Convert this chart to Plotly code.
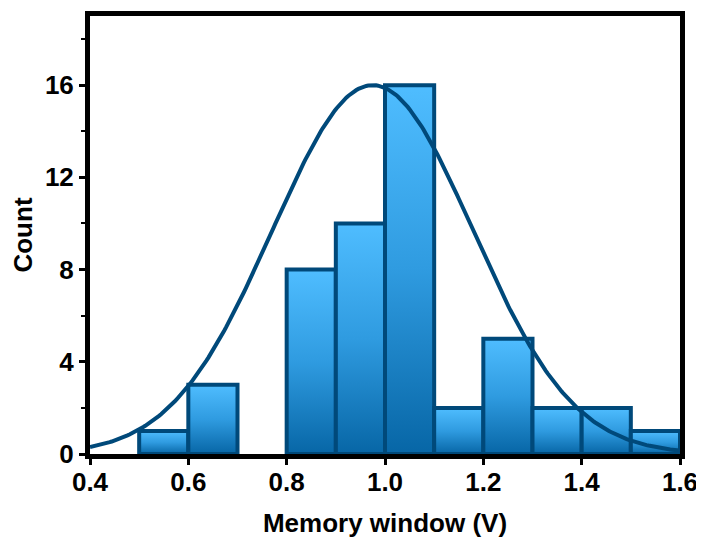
import numpy as np
import plotly.graph_objects as go

# Histogram data
bin_left = [0.5, 0.6, 0.7, 0.8, 0.9, 1.0, 1.1, 1.2, 1.3, 1.4, 1.5]
bin_width = 0.1
counts = [1, 3, 0, 8, 10, 16, 2, 5, 2, 2, 1]

# Gaussian fit parameters
fit_mean = 0.975
fit_sigma = 0.204
fit_amp = 16.0

x_ticks = [0.4, 0.6, 0.8, 1.0, 1.2, 1.4, 1.6]
x_ticklabels = ["0.4", "0.6", "0.8", "1.0", "1.2", "1.4", "1.6"]
y_ticks = [0, 4, 8, 12, 16]
y_minor_ticks = [2, 6, 10, 14, 18]

edge = "#00497a"
fig = go.Figure()

for xl, c in zip(bin_left, counts):
    if c <= 0:
        continue
    xr = xl + bin_width
    fig.add_trace(go.Scatter(
        x=[xl, xr, xr, xl, xl], y=[0, 0, c, c, 0],
        mode="lines", fill="toself",
        fillgradient=dict(type="vertical",
                          colorscale=[[0, "#0766a6"], [0.5, "#2f9be0"], [1, "#4fbdff"]]),
        line=dict(color=edge, width=4),
        showlegend=False, hoverinfo="skip",
    ))

xs = np.linspace(0.4, 1.6, 300)
ys = fit_amp * np.exp(-(xs - fit_mean) ** 2 / (2 * fit_sigma ** 2))
fig.add_trace(go.Scatter(x=xs, y=ys, mode="lines",
                         line=dict(color=edge, width=4), showlegend=False))

font = dict(family="Liberation Sans, Arial, sans-serif", size=26, color="black", weight="bold")

# the page body adds an 8px margin, so the figure is sized 8px smaller
fig.update_layout(
    width=696, height=534,
    margin=dict(l=82, r=24, t=8, b=88),
    paper_bgcolor="white", plot_bgcolor="white",
    font=font,
    xaxis=dict(range=[0.4, 1.6], tickvals=x_ticks, ticktext=x_ticklabels,
               automargin=False,
               showgrid=False, zeroline=False, showline=True, mirror=True,
               linecolor="black", linewidth=5, ticks="outside", ticklen=6,
               tickwidth=3, tickcolor="black", tickfont=font,
               ticklabelstandoff=-5,
               title=dict(text="Memory window (V)", font=font, standoff=19)),
    yaxis=dict(range=[0, 19], tickvals=y_ticks, automargin=False,
               showgrid=False, zeroline=False, showline=True, mirror=True,
               linecolor="black", linewidth=5, ticks="outside", ticklen=6,
               tickwidth=3, tickcolor="black", tickfont=font,
               minor=dict(tickvals=y_minor_ticks, ticks="outside", ticklen=4,
                          tickwidth=2, tickcolor="black"),
               title=dict(text="Count", font=font, standoff=10)),
)

fig.write_html("out.html")
